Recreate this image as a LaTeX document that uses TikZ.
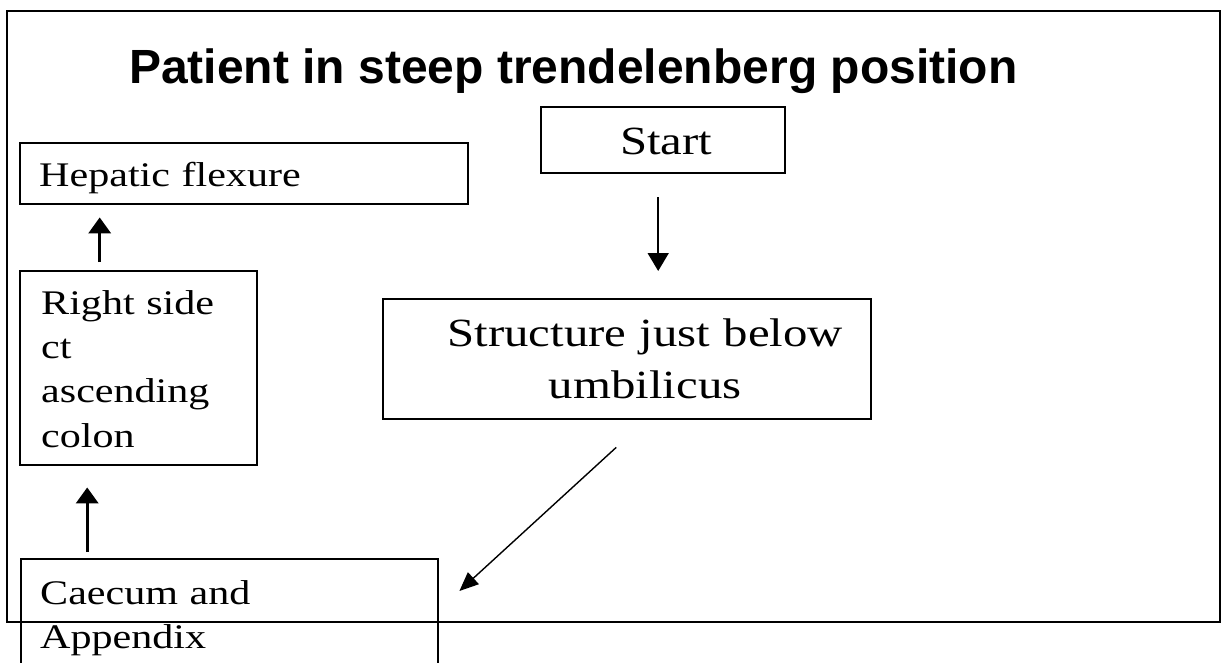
\documentclass[tikz,border=0pt]{standalone}
\usepackage{fontspec}
\setmainfont{Liberation Serif}
\newfontfamily\boxfont[FakeStretch=1.22]{Liberation Serif}
\newfontfamily\titlefont{Liberation Sans}
\usetikzlibrary{arrows.meta,calc}
\begin{document}
\begin{tikzpicture}[x=1pt,y=-1pt,
  box/.style={draw, line width=2.4pt, inner ysep=0pt, anchor=north west,
    font=\boxfont\fontsize{34.5}{44.3}\selectfont, align=left},
  bigtext/.style={font=\boxfont\fontsize{40}{52}\selectfont},
  thinarrow/.style={line width=1.6pt, -{Triangle[width=21pt,length=18pt]}},
  thickarrow/.style={line width=3.4pt, -{Triangle[width=22pt,length=16pt]}},
  diagarrow/.style={line width=1.4pt, -{Triangle[width=16pt,length=19pt]}},
  titlestyle/.style={anchor=base west, inner sep=0pt,
    font=\titlefont\bfseries\fontsize{48}{56}\selectfont}
]
\useasboundingbox (0,0) rectangle (1223,662);
\fill[white] (0,0) rectangle (1223,662);
\draw[line width=2.4pt] (7,11) rectangle (1220,622);

\node[titlestyle] (title) at (129,83) {Patient in steep trendelenberg position};

\node[box, inner xsep=19pt, text width=410pt, text height=43pt, text depth=18pt] (hep) at (19,142) {Hepatic flexure};
\node[box, inner xsep=21pt, text width=195pt, text height=43pt, text depth=151pt] (right) at (19,270) {Right side\\ ct\\ ascending\\ colon};
\node[box, inner xsep=19pt, text width=379pt, text height=45pt, text depth=77pt] (caecum) at (20,558) {Caecum and\\ Appendix};
\node[box, bigtext, align=center, inner xsep=10pt, text width=468pt, text height=47pt, text depth=73pt] (struct) at (382,298) {\hspace*{36pt}Structure just below\\ \hspace*{36pt}umbilicus};
\node[box, bigtext, align=center, inner xsep=10pt, text width=224pt, text height=47pt, text depth=19pt] (start) at (540,106) {\hspace*{6pt}Start};

\draw[thinarrow] ($(start.south)+(-5,23)$) -- ($(start.south |- struct.north)+(-5,-27)$);
\draw[thickarrow] ($(right.north)+(-39,-8)$) -- ($(hep.south -| right.north)+(-39,12)$);
\draw[thickarrow] ($(caecum.north)+(-142.5,-6)$) -- ($(right.south -| caecum.north)+(-142.5,21)$);
\draw[diagarrow] ($(struct.south)+(-11,27)$) -- ($(caecum.north east)+(20,33)$);
\end{tikzpicture}
\end{document}
